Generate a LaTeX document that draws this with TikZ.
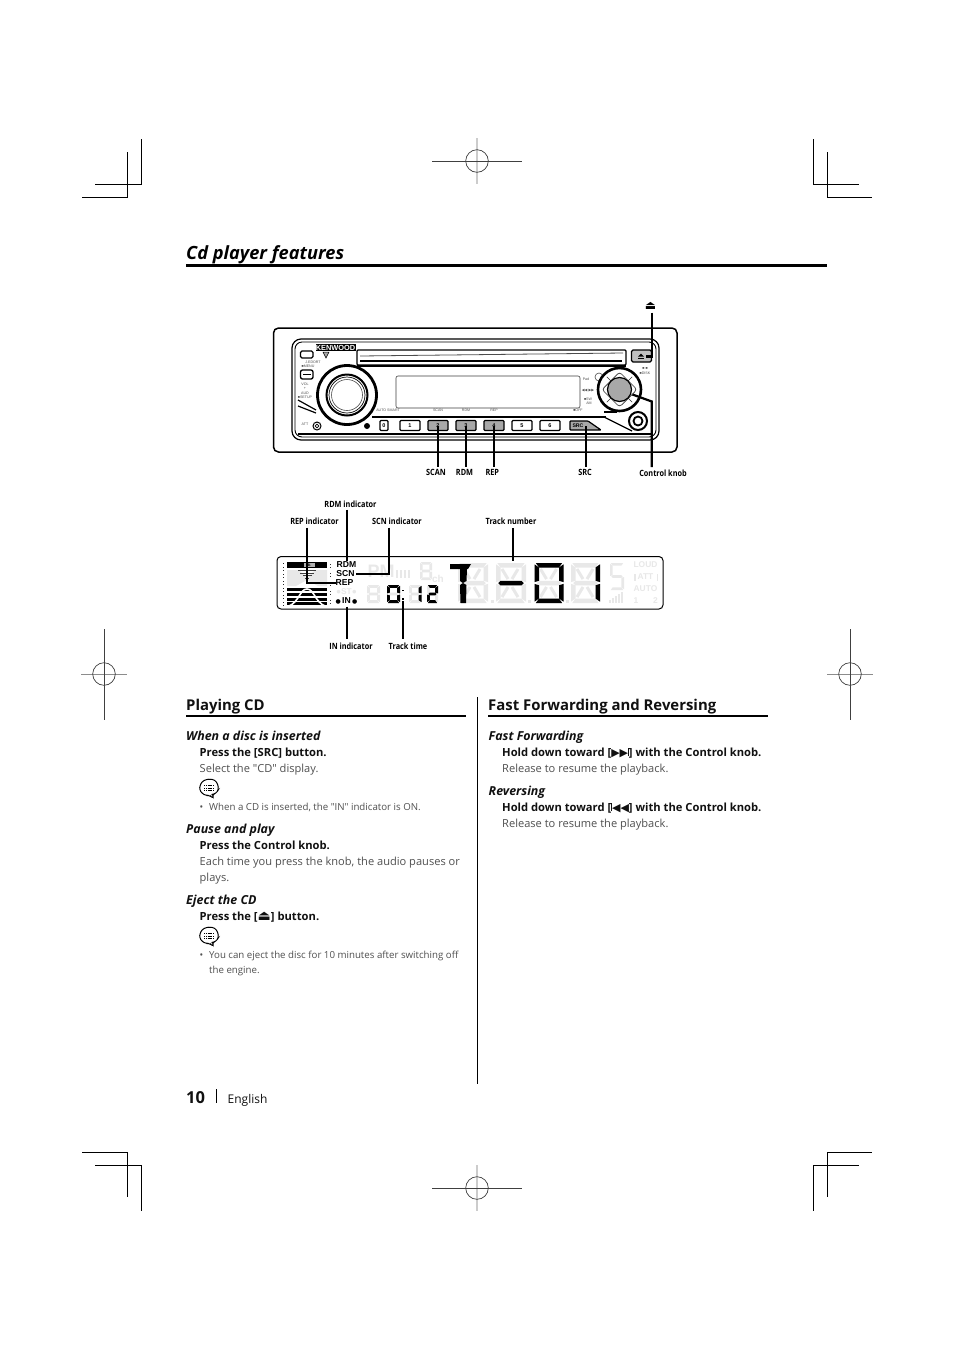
\documentclass[tikz,border=0pt]{standalone}
\usepackage{fontspec}
\setmainfont{Open Sans}
\newfontfamily\cond[FakeStretch=0.85]{Open Sans}
\newfontfamily\dv{DejaVu Sans}
\newfontfamily\lib{Liberation Sans}
\newfontfamily\qf{Open Sans}
\newcommand\sq{{\qf\symbol{34}}}
\definecolor{ink}{HTML}{111111}
\definecolor{soft}{HTML}{505050}
\definecolor{ghost}{HTML}{E8E8E8}
\definecolor{btn}{HTML}{A8A8A8}
\newcommand\fsz[1]{\fontsize{#1}{#1}\selectfont}
\tikzset{
 crop/.style={line width=1pt,black},
 txt/.style={inner sep=0pt,anchor=base west,text=ink},
 head/.style={txt,font=\fsz{14.9}\bfseries},
 sub/.style={txt,font=\fsz{12.4}\bfseries\itshape},
 act/.style={txt,font=\fsz{11.2}\bfseries},
 body/.style={txt,font=\fsz{11.08},text=soft},
 note/.style={txt,font=\fsz{9.7},text=soft},
 lbl/.style={inner sep=0pt,font=\cond\fsz{8.6}\bfseries,text=black},
 tiny/.style={inner sep=0pt,font=\lib\fsz{3.6},text=soft},
 lead/.style={line width=2.2pt,black},
 leadt/.style={line width=1.6pt,black},
 key/.style={draw=black,line width=1.3pt,rounded corners=1pt,minimum width=20pt,minimum height=10pt,inner sep=0pt,font=\lib\fsz{5.5}\bfseries},
 keyg/.style={key,fill=btn},
 ind/.style={inner sep=0pt,font=\lib\fsz{8.6}\bfseries,text=black},
 faint/.style={inner sep=0pt,font=\lib\fsz{8.4}\bfseries,text=ghost},
}
% seven-segment helpers
\def\sega{\fill[\C] (\X+\T*.3,\Y) -- (\X+\W-\T*.3,\Y) -- (\X+\W-\T,\Y+\T) -- (\X+\T,\Y+\T) -- cycle;}
\def\segd{\fill[\C] (\X+\T*.3,\Y+\H) -- (\X+\W-\T*.3,\Y+\H) -- (\X+\W-\T,\Y+\H-\T) -- (\X+\T,\Y+\H-\T) -- cycle;}
\def\segg{\fill[\C] (\X+\T*.5,\Y+\H/2) -- (\X+\T,\Y+\H/2-\T/2) -- (\X+\W-\T,\Y+\H/2-\T/2) -- (\X+\W-\T*.5,\Y+\H/2) -- (\X+\W-\T,\Y+\H/2+\T/2) -- (\X+\T,\Y+\H/2+\T/2) -- cycle;}
\def\segf{\fill[\C] (\X,\Y+\T*.3) -- (\X+\T,\Y+\T) -- (\X+\T,\Y+\H/2-\T/2) -- (\X,\Y+\H/2-\T*.2) -- cycle;}
\def\sege{\fill[\C] (\X,\Y+\H/2+\T*.2) -- (\X+\T,\Y+\H/2+\T/2) -- (\X+\T,\Y+\H-\T) -- (\X,\Y+\H-\T*.3) -- cycle;}
\def\segb{\fill[\C] (\X+\W,\Y+\T*.3) -- (\X+\W-\T,\Y+\T) -- (\X+\W-\T,\Y+\H/2-\T/2) -- (\X+\W,\Y+\H/2-\T*.2) -- cycle;}
\def\segc{\fill[\C] (\X+\W,\Y+\H/2+\T*.2) -- (\X+\W-\T,\Y+\H/2+\T/2) -- (\X+\W-\T,\Y+\H-\T) -- (\X+\W,\Y+\H-\T*.3) -- cycle;}
\newcommand\digit[6]{% x y w h t blacksegments
 \def\X{#1}\def\Y{#2}\def\W{#3}\def\H{#4}\def\T{#5}%
 \def\C{ghost}\foreach \s in {a,b,c,d,e,f,g}{\csname seg\s\endcsname}%
 \def\C{black}\foreach \s in {#6}{\csname seg\s\endcsname}%
}
\newcommand\digitS[5]{%
 \def\X{#1}\def\Y{#2}\def\W{#3}\def\H{#4}\def\T{#5}%
 \def\C{ghost}\foreach \s in {a,c,d,f,g}{\csname seg\s\endcsname}%
}
\newcommand\bigghost[2]{% 14-seg grey diagonals
 \draw[ghost,line width=3pt] (#1+6,#2+6) -- (#1+12,#2+16) (#1+22,#2+6) -- (#1+16,#2+16) (#1+6,#2+34) -- (#1+12,#2+24) (#1+22,#2+34) -- (#1+16,#2+24);
}
\newcommand\bubble[2]{% note icon
 \begin{scope}[shift={(#1,#2)}]
 \draw[black,line width=1pt,rounded corners=2.5pt,fill=white] (-9,-3) -- (-7,-7) -- (-3,-9) -- (1,-9.5) -- (6,-8.5) -- (9,-4) -- (9.5,1) -- (7,5) -- (3,6) -- (5,10) -- (0,6.8) -- (-3,7) -- (-7,5) -- (-9.5,1) -- cycle;
 \foreach \yy in {-3,-.5,2}{\draw[black,line width=1pt,dash pattern=on 1.2pt off .6pt] (-5,\yy) -- (5,\yy);}
 \end{scope}
}
\begin{document}
\begin{tikzpicture}[x=1pt,y=-1pt]
\useasboundingbox (0,0) rectangle (954,1350);
\fill[white] (0,0) rectangle (954,1350);
% crop marks
\draw[crop] (82,197.3) -- (127.5,197.3) -- (127.5,152);
\draw[crop] (95,184) -- (141.3,184) -- (141.3,139);
\draw[crop] (871.7,197.3) -- (827.3,197.3) -- (827.3,152);
\draw[crop] (858.7,184) -- (813.3,184) -- (813.3,139);
\draw[crop] (82,1152.3) -- (127.5,1152.3) -- (127.5,1197);
\draw[crop] (95,1165.3) -- (141.3,1165.3) -- (141.3,1211);
\draw[crop] (871.7,1152.3) -- (827.3,1152.3) -- (827.3,1197);
\draw[crop] (858.7,1165.3) -- (813.3,1165.3) -- (813.3,1211);
% registration marks
\foreach \cx/\cy in {477/161,477/1188}{
 \draw[black!20,line width=1.2pt] (\cx,\cy-23) -- (\cx,\cy+23);
 \draw[black!75,line width=.7pt] (\cx-45,\cy) -- (\cx+45,\cy);
 \draw[black!75,line width=.7pt] (\cx,\cy) circle (11.3);
}
\foreach \cx/\cy in {104/674,850/674}{
 \draw[black!45,line width=.7pt] (\cx-23,\cy) -- (\cx+23,\cy);
 \draw[black!75,line width=.9pt] (\cx,\cy-45) -- (\cx,\cy+46);
 \draw[black!75,line width=.7pt] (\cx,\cy) circle (11.3);
}
% title
\node[txt,font=\fsz{18.2}\bfseries\itshape,text=black] (title) at (186,259) {Cd player features};
\draw[line width=3pt,black] (186,265.5) -- (827,265.5);

% ===== head unit =====
\draw[black,line width=1.5pt,rounded corners=5pt] (273.5,328) rectangle (677,452);
\draw[black,line width=1.2pt,rounded corners=9pt] (292,339) rectangle (659,440);
\draw[black,line width=.9pt,rounded corners=7pt] (295,342) rectangle (656,437);
\draw[black,line width=1.5pt] (298,434) -- (653,434);
% kenwood
\node[fill=black,text=white,inner sep=0pt,minimum width=40pt,minimum height=7.5pt,font=\lib\fsz{7.4}\bfseries] (brand) at (335.5,347.5) {KENWOOD};
\fill[btn,draw=black,line width=.5pt] (323,352) -- (329,352) -- (326,358) -- cycle;
% slot
\draw[black,line width=1.2pt,rounded corners=1pt,fill=white] (357,350) rectangle (626,365);
\draw[black,line width=2pt] (357,366) -- (626,366);
\draw[black!70,line width=.8pt] (360,356) -- (623,353);
\draw[black,line width=1.4pt] (360,361) -- (622,361);
% panel lines
\draw[black,line width=2.2pt] (372,417) -- (606,417);
\draw[black,line width=1.2pt] (604,417) -- (632,431);
\draw[black,line width=1.4pt] (604,412) -- (617,412);
\draw[black,line width=1.2pt] (298,400) -- (316,410);
\draw[black,line width=1.2pt] (298,406) -- (316,413);
% display window
\draw[black!75,line width=.6pt,rounded corners=2pt] (396,376) rectangle (580,408);
% small buttons top-left
\draw[black,line width=1.3pt,rounded corners=1.5pt] (300.5,351) rectangle (313,358);
\draw[black,line width=1.3pt,rounded corners=2pt] (300.5,370) rectangle (313,379);
\draw[black,line width=.8pt] (303,374.5) -- (311,374.5);
% tiny labels
\node[tiny] (t1) at (313,362) {J.EDORT};
\node[tiny] (t2) at (308,366) {■MENU};
\node[tiny] (t3) at (305,384) {VOL};
\node[tiny] (t4) at (305,388.5) {+};
\node[tiny] (t5) at (305,393) {AUD};
\node[tiny] (t6) at (305,397) {■SETUP};
\node[tiny] (t7) at (305,424.5) {ATT};
\node[tiny] (t8) at (388,410.5) {AUTO SMART};
\node[tiny] (t9) at (438,410.5) {SCAN};
\node[tiny] (t10) at (466,410.5) {RDM};
\node[tiny] (t11) at (494,410.5) {REP};
\node[tiny] (t12) at (578,410.5) {■OFF};
\node[tiny] (t13) at (586,379) {Pad};
\node[tiny,font=\dv\fsz{3.6}] (t14) at (588,391) {◀◀ ▶▶};
\node[tiny] (t15) at (588,399) {■SW};
\node[tiny] (t16) at (589,403) {AM};
\node[tiny] (t17) at (645,368.5) {■ ■};
\node[tiny] (t18) at (645,373) {■DISK};
% left knob
\filldraw[fill=white,draw=black,line width=2.8pt] (347,395) circle (29.5);
\draw[black,line width=2pt] (347,395) circle (20.5);
\draw[black,line width=.7pt] (347,395) circle (18);
\draw[black!70,line width=.6pt] (347,395) circle (15.5);
% ATT and dot
\node[draw=black,circle,line width=1pt,minimum size=8pt,inner sep=0pt] (att) at (317,426) {};
\draw[black,line width=.7pt] (att) circle (1.8);
\fill[black] (367,426) circle (3);
% preset keys
\node[key,minimum width=8pt] (b0) at (384,425.5) {0};
\node[key] (b1) at (410,425.5) {1};
\node[keyg] (b2) at (438,425.5) {2};
\node[keyg] (b3) at (466,425.5) {3};
\node[keyg] (b4) at (494,425.5) {4};
\node[key] (b5) at (522,425.5) {5};
\node[key] (b6) at (550,425.5) {6};
\filldraw[fill=btn,draw=black,line width=1.2pt,rounded corners=.8pt] (570,421) -- (588,421) -- (601,430) -- (570,430) -- cycle;
\coordinate (bsrc) at (585.7,426);
\node[inner sep=0pt,font=\lib\fsz{5.2}\bfseries] (srctxt) at (578,425.7) {SRC};
% eject button
\node[draw=black,fill=black!25,line width=1.3pt,rounded corners=1.5pt,minimum width=20pt,minimum height=12pt,inner sep=0pt] (bej) at (641.5,356) {};
\fill[black] (638,356.5) -- (641,353.5) -- (644,356.5) -- cycle;
\draw[black,line width=.8pt] (638,358.5) -- (644,358.5);
% right knob
\draw[black!70,line width=.6pt,fill=white] (599,377) circle (4);
\filldraw[fill=white,draw=black,line width=2.6pt] (619.5,389.5) circle (21.5);
\draw[black!80,line width=.7pt,rounded corners=3pt] (619.5,372) -- (637,389.5) -- (619.5,407) -- (602,389.5) -- cycle;
\foreach \a in {45,135,225,315}{\draw[black!80,line width=.6pt] (619.5,389.5) ++(\a:12) -- ++(\a:6);}
\node[draw=black,fill=btn,circle,line width=1.2pt,minimum size=24pt,inner sep=0pt] (knob) at (619.5,389.5) {};
% jack
\filldraw[fill=white,draw=black,line width=2pt] (638,421) circle (9);
\draw[black,line width=1.8pt] (638,421) circle (4.5);
% labels and leaders
\node[lbl] (lscan) at (436,472.3) {SCAN};
\node[lbl] (lrdm) at (464.5,472.3) {RDM};
\node[lbl] (lrep) at (492.3,472.3) {REP};
\node[lbl] (lsrc) at (585,472.3) {SRC};
\node[lbl] (lctrl) at (663,473.3) {Control knob};
\node[inner sep=0pt,font=\dv\fsz{12}] (lej) at (650.5,306) {⏏};
\coordinate (e1) at (437.7,466.5);\coordinate (e2) at (466.7,466.5);\coordinate (e3) at (494,466.5);\coordinate (e4) at (585.7,466.5);
\draw[lead] (b2.center) -- (b2.center |- e1);
\draw[lead] (b3.center) -- (b3.center |- e2);
\draw[lead] (b4.center) -- (b4.center |- e3);
\draw[lead] (bsrc) -- (bsrc |- e4);
\coordinate (cj) at (651.8,401.5);\coordinate (cb) at (651.8,467);
\draw[lead] (knob.center) ++(13,5) -- (cj) -- (cb);
\coordinate (ej) at (651.8,312.5);\coordinate (ek) at (646,356.5);
\draw[lead] (ej) -- (651.8,356.5) -- (ek);

% ===== LCD =====
\draw[black,line width=1pt,rounded corners=4pt] (277,556.5) rectangle (663,609);
% left block
\fill[black] (287,562) rectangle (327,568);
\node[inner sep=0pt,font=\lib\fsz{5}\bfseries,text=black,fill=white!70!black,minimum width=11pt,minimum height=4pt] (eq) at (309,565) {E};
\fill[ghost] (287,570) -- (299,570) -- (307,578) -- (315,570) -- (327,570) -- (327,586) -- (318,586) -- (307,580) -- (296,586) -- (287,586) -- cycle;
\foreach \yy/\ww in {570/9,572.5/7,575/4.5,577.5/2}{\fill[black!75] (307-\ww,\yy) rectangle (307+\ww,\yy+1.2);}
\foreach \yy/\hh in {588/2.8,593/2.8,598/2.8,602/3.2}{\fill[black] (287,\yy) rectangle (327,\yy+\hh);}
\draw[white,line width=1.6pt] (289,606) .. controls (299,602) and (300,589) .. (307,589) .. controls (314,589) and (315,602) .. (325,606);
\foreach \yy in {563,566.5,570,573.5,577,580.5,584,587.5,591,594.5,598,601.5,605}{\fill[black!85] (283,\yy) rectangle (284,\yy+1.3);}
\foreach \yy in {564,567,573,576,582,585,591,594,600,603}{\fill[black!80] (329.5,\yy) rectangle (330.6,\yy+1.3);}
% indicators
\node[ind] (irdm) at (346.5,565) {RDM};
\node[ind] (iscn) at (345.5,574) {SCN};
\node[ind] (irep) at (344.5,583) {REP};
\node[faint] (ist) at (346.5,592) {●ST●};
\node[ind] (iin) at (346.5,601) {{\dv\fsz{6}●}\,IN\,{\dv\fsz{6}●}};
% grey top row
\node[inner sep=0pt,font=\lib\fsz{18}\bfseries,text=ghost] (pm) at (381,571) {PM};
\foreach \xx in {396,400,404,408}{\fill[ghost] (\xx,570) rectangle (\xx+2.4,578);}
\digit{420}{562}{12}{18}{2.6}{}
\node[inner sep=0pt,font=\lib\fsz{10}\bfseries,text=ghost] (ch) at (438,579) {ch};
% small digits
\digit{367}{585}{13}{18}{2.8}{}
\digit{387}{585}{13}{18}{2.8}{a,b,c,d,e,f}
\fill[black] (402.2,589.5) rectangle (404,591.3);\fill[black] (402.2,598) rectangle (404,599.8);
\digit{409}{585}{12.5}{18}{2.8}{b,c}
\digit{427}{585}{11}{18}{2.8}{a,b,g,e,d}
% big digits
\digit{458}{563}{30}{40}{4.5}{}
\bigghost{458}{563}
\fill[black] (450,564) -- (471,564) -- (468,569) -- (450,569) -- cycle;
\fill[black] (460,569) -- (467,569) -- (466.5,581) -- (463,583) -- (460,581) -- cycle;
\fill[black] (460,585) -- (463,583) -- (466.5,585) -- (466,603) -- (460.5,603) -- cycle;
\fill[ghost] (491,600) rectangle (494,603);
\digit{496}{563}{30}{40}{4.5}{g}
\bigghost{496}{563}
\fill[ghost] (528,600) rectangle (531,603);
\digit{534.5}{563}{29}{40}{4.5}{a,b,c,d,e,f}
\bigghost{534.5}{563}
\fill[ghost] (566,600) rectangle (569,603);
\digit{571}{563}{29}{40}{4.5}{b,c}
\bigghost{571}{563}
% small S and bars
\digitS{610}{563}{14}{27}{2.6}
\foreach \xx/\yy in {609/600,612/598,615/596,618/594,621/592}{\fill[ghost] (\xx,\yy) rectangle (\xx+1.8,603);}
% right indicators
\node[faint] (iloud) at (645.5,565) {LOUD};
\node[faint] (iatt) at (645.5,577) {ATT};
\fill[ghost] (634,573.5) rectangle (635.8,580.5);\fill[ghost] (656.5,573.5) rectangle (658.3,580.5);
\node[faint] (iauto) at (645.5,589) {AUTO};
\node[faint] (ione) at (636,601) {1};
\node[faint] (itwo) at (655.5,601) {2};
% lcd labels
\node[lbl] (lirdm) at (350.5,504.3) {RDM indicator};
\node[lbl] (lirep) at (314.5,521.3) {REP indicator};
\node[lbl] (liscn) at (397,521.3) {SCN indicator};
\node[lbl] (litrk) at (511,521.3) {Track number};
\node[lbl] (liin) at (351,646.3) {IN indicator};
\node[lbl] (litt) at (408,646.3) {Track time};
\coordinate (a1) at (306.7,527.5);\coordinate (a2) at (335.5,583);
\draw[leadt] (a1) -- (306.7,583) -- (a2);
\coordinate (a3) at (346.7,509.5);\coordinate (a4) at (346.7,560.5);
\draw[lead] (a3) -- (a4);
\coordinate (a5) at (389,527.5);\coordinate (a6) at (356,574);
\draw[leadt] (a5) -- (389,574) -- (a6);
\coordinate (a7) at (347,606.5);\coordinate (a8) at (347,638.5);
\draw[leadt] (a7) -- (a8);
\coordinate (a9) at (402.8,601);\coordinate (a10) at (402.8,638.5);
\draw[leadt] (a9) -- (a10);
\coordinate (a11) at (512.8,528);\coordinate (a12) at (512.8,560.5);
\draw[leadt] (a11) -- (a12);

% ===== left column =====
\node[head] (h1) at (186,710) {Playing CD};
\draw[line width=2pt,black] (186,716) -- (466,716);
\node[sub] (s1) at (186,740) {When a disc is inserted};
\node[act] (a1t) at (199.5,756) {Press the [SRC] button.};
\node[body] (b1t) at (199.5,772) {Select the \sq CD\sq\ display.};
\bubble{209}{788.5}
\node[note] (n0) at (199.5,810) {•};
\node[note] (n1) at (209,810) {When a CD is inserted, the \sq IN\sq\ indicator is ON.};
\node[sub] (s2) at (186,833) {Pause and play};
\node[act] (a2t) at (199.5,849) {Press the Control knob.};
\node[body] (b2t) at (199.5,865) {Each time you press the knob, the audio pauses or};
\node[body] (b3t) at (199.5,881) {plays.};
\node[sub] (s3) at (186,904) {Eject the CD};
\node[act] (a3t) at (199.5,920) {Press the [{\dv\fsz{14}⏏}] button.};
\bubble{209}{936.5}
\node[note] (n2) at (199.5,958) {•};
\node[note] (n3) at (209,958) {You can eject the disc for 10 minutes after switching off};
\node[note] (n4) at (209,973) {the engine.};
\draw[black,line width=1pt] (477.5,697) -- (477.5,1084);
% ===== right column =====
\node[head] (h2) at (488,710) {Fast Forwarding and Reversing};
\draw[line width=2pt,black] (488,716) -- (768,716);
\node[sub] (s4) at (488.5,740) {Fast Forwarding};
\node[act] (a4t) at (502,756) {Hold down toward [{\dv\fsz{11}▶▶}\rule{.8pt}{8pt}] with the Control knob.};
\node[body] (b4t) at (502,772) {Release to resume the playback.};
\node[sub] (s5) at (488.5,795) {Reversing};
\node[act] (a5t) at (502,811) {Hold down toward [\rule{.8pt}{8pt}{\dv\fsz{11}◀◀}] with the Control knob.};
\node[body] (b5t) at (502,827) {Release to resume the playback.};
% folio
\node[txt,font=\fsz{16.5}\bfseries] (pg) at (186,1103) {10};
\draw[black,line width=.9pt] (216,1089) -- (216,1103);
\node[txt,font=\fsz{12}] (lang) at (227.5,1103) {English};
\end{tikzpicture}
\end{document}
